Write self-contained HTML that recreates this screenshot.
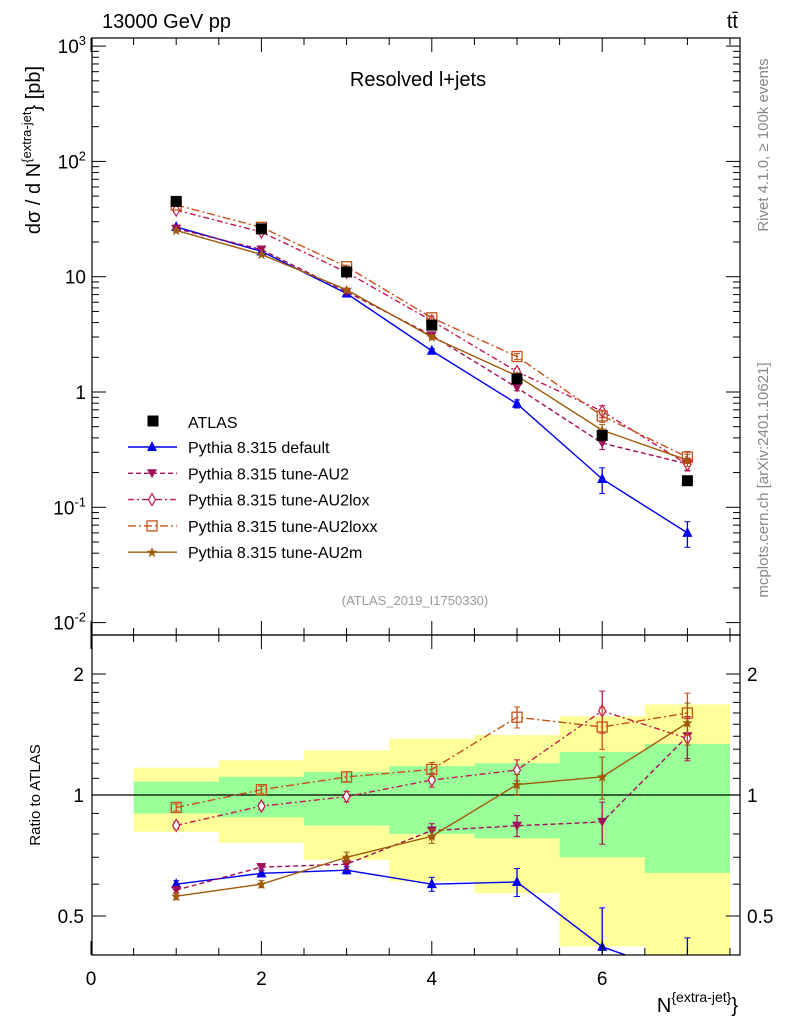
<!DOCTYPE html>
<html><head><meta charset="utf-8"><style>
body{margin:0;background:#fff;}
svg{font-family:"Liberation Sans",sans-serif;}
</style></head><body>
<svg id="c" width="786" height="1024" viewBox="0 0 786 1024" xmlns="http://www.w3.org/2000/svg"></svg>
<script>
const categories=[1,2,3,4,5,6,7];
const atlas=[45,26,11,3.8,1.3,0.42,0.17];
const bandTotalUp=[1.17,1.22,1.29,1.38,1.41,1.57,1.68];
const bandTotalDn=[0.81,0.76,0.69,0.61,0.57,0.42,0.30];
const bandStatUp=[1.08,1.11,1.14,1.18,1.20,1.28,1.34];
const bandStatDn=[0.90,0.88,0.84,0.80,0.78,0.70,0.64];
const sDefault=[27,16.6,7.15,2.28,0.79,0.176,0.060];
const sAU2=[26.1,17.2,7.4,3.1,1.09,0.36,0.238];
const sAU2lox=[37.8,24.4,10.9,4.14,1.5,0.68,0.235];
const sAU2loxx=[41.9,26.8,12.2,4.4,2.03,0.62,0.272];
const sAU2m=[25.2,15.6,7.7,3.0,1.38,0.466,0.257];
const errDefault=[0.02,0.02,0.02,0.04,0.08,0.25,0.25];
const errOther=[0.02,0.02,0.03,0.04,0.06,0.12,0.12];
const yTicksMain=[-2,-1,0,1,2,3];
const yTicksRatio=[0.5,1,2];
const xTicks=[0,2,4,6];

const NS="http://www.w3.org/2000/svg";
const svg=document.getElementById('c');
const L=92,R=740,T=38,MB=635,RB=955;
const X=v=>91+v*85.2;
const Ym=v=>392-Math.log10(v)*115.3;
const Yr=v=>795-Math.log2(v)*121;
function el(tag,attrs,parent){const e=document.createElementNS(NS,tag);for(const k in attrs)e.setAttribute(k,attrs[k]);(parent||svg).appendChild(e);return e;}

for(let i=0;i<categories.length;i++){
  const x0=X(categories[i]-0.5),x1=X(categories[i]+0.5);
  const yt=Math.max(T+1,Yr(bandTotalUp[i])),yb=Math.min(RB,Yr(bandTotalDn[i]));
  const r=el('rect',{x:x0,y:yt,width:x1-x0,height:yb-yt,fill:'#ffff99'});
  
  
  const g=el('rect',{x:x0,y:Yr(bandStatUp[i]),width:x1-x0,height:Yr(bandStatDn[i])-Yr(bandStatUp[i]),fill:'#99ff99'});
  
  
}
el('line',{x1:L,x2:R,y1:Yr(1),y2:Yr(1),stroke:'#000','stroke-width':1.2});

const defs=el('defs',{});
const cp=el('clipPath',{id:'rc'},defs);el('rect',{x:L,y:MB,width:R-L,height:RB-MB},cp);
const cpm=el('clipPath',{id:'mc'},defs);el('rect',{x:L,y:T,width:R-L,height:MB-T},cpm);

const series=[
 {name:'default',label:'Pythia 8.315 default',vals:sDefault,err:errDefault,color:'#0000ee',dash:'',mk:'tri'},
 {name:'au2',label:'Pythia 8.315 tune-AU2',vals:sAU2,err:errOther,color:'#a0105a',dash:'5,3',mk:'itri'},
 {name:'au2lox',label:'Pythia 8.315 tune-AU2lox',vals:sAU2lox,err:errOther,color:'#c01850',dash:'6,3,2,3',mk:'dia'},
 {name:'au2loxx',label:'Pythia 8.315 tune-AU2loxx',vals:sAU2loxx,err:errOther,color:'#c85018',dash:'8,3,2,3',mk:'sq'},
 {name:'au2m',label:'Pythia 8.315 tune-AU2m',vals:sAU2m,err:errOther,color:'#a05a0a',dash:'',mk:'star'}
];
function marker(type,x,y,c,g){
  let m;
  if(type=='tri')m=el('polygon',{points:`${x},${y-6} ${x-5},${y+4} ${x+5},${y+4}`,fill:c},g);
  else if(type=='itri')m=el('polygon',{points:`${x},${y+5} ${x-5},${y-4} ${x+5},${y-4}`,fill:c},g);
  else if(type=='dia')m=el('polygon',{points:`${x},${y-6} ${x+3.5},${y} ${x},${y+6} ${x-3.5},${y}`,fill:'#fff',stroke:c,'stroke-width':1.2},g);
  else if(type=='sq')m=el('rect',{x:x-5,y:y-5,width:10,height:10,fill:'none',stroke:c,'stroke-width':1.3},g);
  else if(type=='star')m=el('polygon',{points:`${x},${y-5} ${x+1.5},${y-1.5} ${x+5},${y-1.5} ${x+2.2},${y+1} ${x+3.2},${y+5} ${x},${y+2.5} ${x-3.2},${y+5} ${x-2.2},${y+1} ${x-5},${y-1.5} ${x-1.5},${y-1.5}`,fill:c},g);
  else if(type=='box')m=el('rect',{x:x-5.5,y:y-5.5,width:11,height:11,fill:c},g);
  return m;
}
series.forEach(s=>{
  ['main','ratio'].forEach(p=>{
    const g=el('g',{'clip-path':p=='main'?'url(#mc)':'url(#rc)'});
    
    
    const Y=p=='main'?(i=>Ym(s.vals[i])):(i=>Yr(s.vals[i]/atlas[i]));
    const pts=categories.map((c,i)=>X(c)+','+Y(i)).join(' ');
    el('polyline',{points:pts,fill:'none',stroke:s.color,'stroke-width':1.4,'stroke-dasharray':s.dash},g);
    categories.forEach((c,i)=>{
      const v=p=='main'?s.vals[i]:s.vals[i]/atlas[i];
      const yf=p=='main'?Ym:Yr;
      const y1=yf(v*(1+s.err[i])),y2=yf(v*(1-s.err[i]));
      el('line',{x1:X(c),x2:X(c),y1:y1,y2:y2,stroke:s.color,'stroke-width':1.3},g);
      el('line',{x1:X(c)-3,x2:X(c)+3,y1:y1,y2:y1,stroke:s.color},g);
      el('line',{x1:X(c)-3,x2:X(c)+3,y1:y2,y2:y2,stroke:s.color},g);
      const m=marker(s.mk,X(c),yf(v),s.color,g);
      
      
    });
  });
});
categories.forEach((c,i)=>{
  const m=marker('box',X(c),Ym(atlas[i]),'#000');
  
  
});

el('rect',{x:L,y:T,width:R-L,height:MB-T,fill:'none',stroke:'#000','stroke-width':1.2});
el('rect',{x:L,y:MB,width:R-L,height:RB-MB,fill:'none',stroke:'#000','stroke-width':1.2});
for(let d=-2;d<=3;d++){
  for(let k=1;k<10;k++){
    const y=Ym(k*Math.pow(10,d));
    if(y<T||y>MB)continue;
    const len=k==1?14:7;
    el('line',{x1:L,x2:L+len,y1:y,y2:y,stroke:'#000'});
    el('line',{x1:R,x2:R-len,y1:y,y2:y,stroke:'#000'});
  }
}
yTicksMain.forEach(d=>{
  const y=Ym(Math.pow(10,d));
  const t=el('text',{x:86,y:y+7,'font-size':19,'text-anchor':'end'});
  
  
  if(d==0)t.textContent='1';else if(d==1)t.textContent='10';
  else{t.textContent='10';const s=el('tspan',{dy:-8,'font-size':13},t);s.textContent=String(d);}
});
[0.4,0.5,0.6,0.7,0.8,0.9,1,1.1,1.2,1.3,1.4,1.5,1.6,1.7,1.8,1.9,2,2.5].forEach(v=>{
  const y=Yr(v);if(y<MB||y>RB)return;
  const len=(v==0.5||v==1||v==2)?14:7;
  el('line',{x1:L,x2:L+len,y1:y,y2:y,stroke:'#000'});
  el('line',{x1:R,x2:R-len,y1:y,y2:y,stroke:'#000'});
});
yTicksRatio.forEach(v=>{
  const y=Yr(v);
  const a=el('text',{x:84,y:y+7,'font-size':19,'text-anchor':'end'});a.textContent=String(v);
  
  
  const b=el('text',{x:747,y:y+7,'font-size':19}); b.textContent=String(v);
  
  
});
for(let v=0;v<=7.5;v+=0.5){
  const x=X(v);if(x<L-1||x>R)continue;
  const len=Number.isInteger(v/2)?14:7;
  [[RB,RB-len],[MB,MB+len],[MB,MB-len],[T,T+len]].forEach(([a,b])=>el('line',{x1:x,x2:x,y1:a,y2:b,stroke:'#000'}));
}
xTicks.forEach(v=>{
  const t=el('text',{x:X(v),y:985,'font-size':19,'text-anchor':'middle'});t.textContent=String(v);
  
  
});

const leg=el('g',{});


marker('box',153,421,'#000',leg);
let t0=el('text',{x:188,y:428,'font-size':16},leg);t0.textContent='ATLAS';
series.forEach((s,i)=>{
  const y=447+i*26.3;
  el('line',{x1:128,x2:177,y1:y,y2:y,stroke:s.color,'stroke-width':1.4,'stroke-dasharray':s.dash},leg);
  marker(s.mk,152,y,s.color,leg);
  const t=el('text',{x:188,y:y+6,'font-size':16},leg);t.textContent=s.label;
  
  
});
</script>
<svg width="786" height="1024" style="position:absolute;left:0;top:0" xmlns="http://www.w3.org/2000/svg">
<text x="102" y="28" font-size="20" font-family="Liberation Sans">13000 GeV pp</text>
<text x="738" y="28" font-size="20" font-family="Liberation Sans" text-anchor="end">tt̄</text>
<text x="418" y="86" font-size="20" font-family="Liberation Sans" text-anchor="middle">Resolved l+jets</text>
<text x="415" y="605" font-size="13" fill="#999" font-family="Liberation Sans" text-anchor="middle">(ATLAS_2019_I1750330)</text>
<text transform="translate(40,150) rotate(-90)" font-size="20" font-family="Liberation Sans" text-anchor="middle">dσ / d N<tspan dy="-9" font-size="13">{extra-jet</tspan><tspan dy="9">} [pb]</tspan></text>
<text transform="translate(40,795) rotate(-90)" font-size="15" font-family="Liberation Sans" text-anchor="middle">Ratio to ATLAS</text>
<text x="738" y="1012" font-size="20" font-family="Liberation Sans" text-anchor="end">N<tspan dy="-10" font-size="14">{extra-jet}</tspan><tspan dy="10">}</tspan></text>
<text transform="translate(768,145) rotate(-90)" font-size="15" fill="#888" font-family="Liberation Sans" text-anchor="middle">Rivet 4.1.0, ≥ 100k events</text>
<text transform="translate(768,480) rotate(-90)" font-size="15" fill="#888" font-family="Liberation Sans" text-anchor="middle">mcplots.cern.ch [arXiv:2401.10621]</text>
</svg>
</body></html>
